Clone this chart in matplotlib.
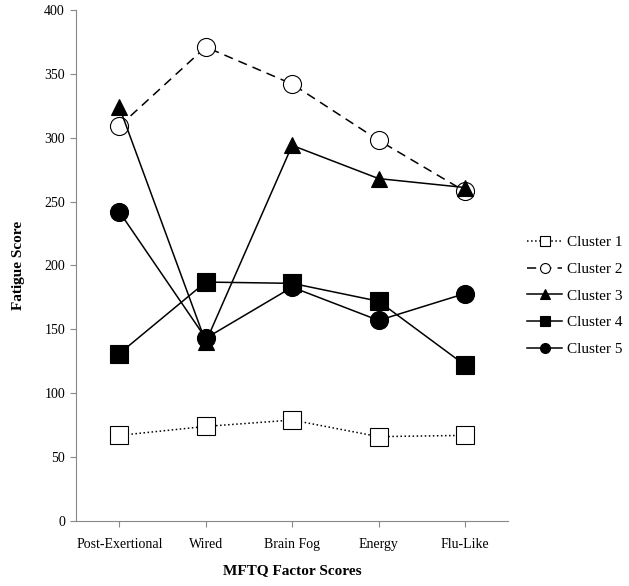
import matplotlib.pyplot as plt
import numpy as np

plt.rcParams['font.family'] = ['Liberation Serif', 'DejaVu Serif']

factors = ["Post-Exertional", "Wired", "Brain Fog", "Energy", "Flu-Like"]
cluster1 = [67, 74, 79, 66, 67]
cluster2 = [309, 371, 342, 298, 258]
cluster3 = [324, 140, 294, 268, 261]
cluster4 = [131, 187, 186, 172, 122]
cluster5 = [242, 143, 183, 157, 178]

fig = plt.figure(figsize=(6.29, 5.86), dpi=100)
ax = fig.add_axes([0.121, 0.111, 0.687, 0.872])

x = np.arange(len(factors)) + 0.5
styles = [
    ("Cluster 1", cluster1, "s", ":", "white", 12.5),
    ("Cluster 2", cluster2, "o", (0, (6, 4)), "white", 13),
    ("Cluster 3", cluster3, "^", "-", "black", 12),
    ("Cluster 4", cluster4, "s", "-", "black", 12.5),
    ("Cluster 5", cluster5, "o", "-", "black", 13),
]
for name, vals, mk, ls, fc, ms in styles:
    ax.plot(x, vals, marker=mk, linestyle=ls, color="black", lw=1.1,
            markerfacecolor=fc, markeredgecolor="black", markeredgewidth=0.8,
            markersize=ms, label=name)

ax.set_xlim(0, 5)
ax.set_ylim(0, 400)
ax.set_xticks(x)
ax.set_xticklabels(factors, fontsize=10)
ax.set_yticks(range(0, 401, 50))
ax.tick_params(axis="y", labelsize=10, direction="out", length=4, color="#888888", pad=4)
ax.tick_params(axis="x", which="major", direction="out", length=4, color="#888888", pad=8)

for s in ["top", "right"]:
    ax.spines[s].set_visible(False)
for s in ["left", "bottom"]:
    ax.spines[s].set_color("#888888")
    ax.spines[s].set_linewidth(0.8)

ax.set_ylabel("Fatigue Score", fontsize=11, fontweight="bold", labelpad=14)
ax.set_xlabel("MFTQ Factor Scores", fontsize=11, fontweight="bold", labelpad=10)

leg = ax.legend(loc="center left", bbox_to_anchor=(0.838, 0.495),
                bbox_transform=fig.transFigure, frameon=False,
                borderpad=0, borderaxespad=0,
                fontsize=11, markerscale=0.55, handlelength=2.3, handletextpad=0.3,
                labelspacing=0.85)

fig.savefig("out.png", dpi=100)
